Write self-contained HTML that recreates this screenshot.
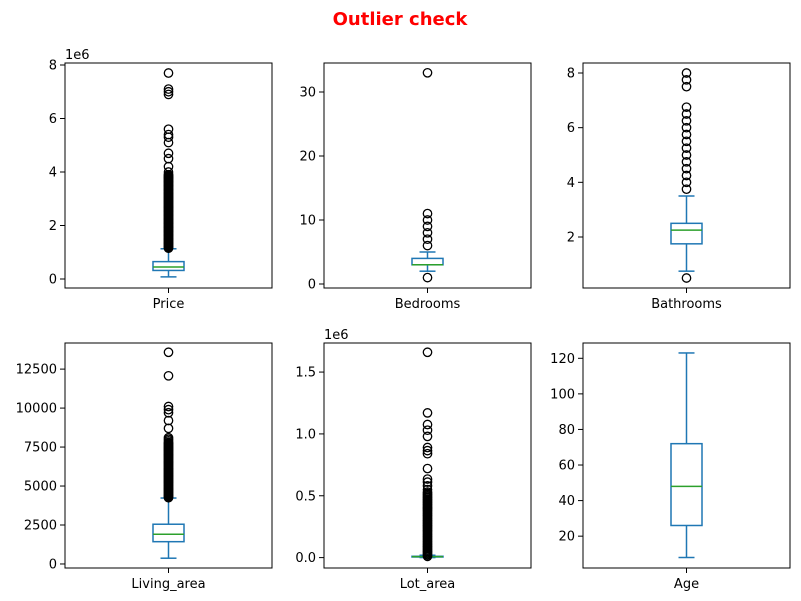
<!DOCTYPE html>
<html><head><meta charset="utf-8"><style>
body{margin:0;background:#fff}
svg{display:block;font-family:"DejaVu Sans","Liberation Sans",sans-serif}
</style></head><body>
<svg id="chart" width="801" height="601" viewBox="0 0 801 601">
<text x="400" y="25" text-anchor="middle" font-size="18" font-weight="bold" fill="#ff0000">Outlier check</text>
</svg>
<script>
// data per panel
const panelNames = ["Price","Bedrooms","Bathrooms","Living_area","Lot_area","Age"];
const yDomains = [[-0.336,8.075],[-0.625,34.53],[0.134,8.366],[-0.258,14.175],[-0.084,1.735],[2.1,128.6]];
const yTicks = [[0,2,4,6,8],[0,10,20,30],[2,4,6,8],[0,2.5,5,7.5,10,12.5],[0,0.5,1.0,1.5],[20,40,60,80,100,120]];
const yTickLabels = [["0","2","4","6","8"],["0","10","20","30"],["2","4","6","8"],["0","2500","5000","7500","10000","12500"],["0.0","0.5","1.0","1.5"],["20","40","60","80","100","120"]];
const offsetLabels = ["1e6","","","","1e6",""];
// box stats: [whiskerLow, q1, median, q3, whiskerHigh]
const boxStats = [
 [0.08,0.32,0.45,0.65,1.13],
 [2,3,3,4,5],
 [0.75,1.75,2.25,2.5,3.5],
 [0.37,1.43,1.91,2.55,4.23],
 [0.0005,0.005,0.0076,0.0107,0.019],
 [8,26,48,72,123]
];
const outliers = [
 [1.15,1.18,1.2,1.23,1.25,1.28,1.3,1.33,1.35,1.38,1.4,1.43,1.45,1.48,1.5,1.53,1.55,1.58,1.6,1.63,1.65,1.68,1.7,1.73,1.75,1.78,1.8,1.83,1.85,1.88,1.9,1.93,1.95,1.98,2.0,2.03,2.05,2.08,2.1,2.13,2.15,2.18,2.2,2.23,2.25,2.28,2.3,2.33,2.35,2.38,2.4,2.43,2.45,2.48,2.5,2.53,2.55,2.58,2.6,2.63,2.65,2.68,2.7,2.73,2.75,2.78,2.8,2.83,2.85,2.88,2.9,2.93,2.95,2.98,3.0,3.03,3.05,3.08,3.1,3.13,3.15,3.18,3.2,3.23,3.25,3.28,3.3,3.33,3.35,3.38,3.4,3.43,3.45,3.48,3.5,3.53,3.55,3.58,3.6,3.63,3.65,3.68,3.7,3.73,3.75,3.78,3.8,3.83,3.85,3.88,3.9,4.0,4.2,4.5,4.7,5.1,5.3,5.4,5.6,6.9,7.0,7.1,7.7],
 [1,6,7,8,9,10,11,33],
 [0.5,3.75,4,4.25,4.5,4.75,5,5.25,5.5,5.75,6,6.25,6.5,6.75,7.5,7.75,8],
 [4.25,4.3,4.35,4.4,4.45,4.5,4.55,4.6,4.65,4.7,4.75,4.8,4.85,4.9,4.95,5.0,5.05,5.1,5.15,5.2,5.25,5.3,5.35,5.4,5.45,5.5,5.55,5.6,5.65,5.7,5.75,5.8,5.85,5.9,5.95,6.0,6.05,6.1,6.15,6.2,6.25,6.3,6.35,6.4,6.45,6.5,6.55,6.6,6.65,6.7,6.75,6.8,6.85,6.9,6.95,7.0,7.05,7.1,7.15,7.2,7.25,7.3,7.35,7.4,7.45,7.5,7.55,7.6,7.65,7.7,7.75,7.8,7.9,8.0,8.1,8.7,9.2,9.7,9.9,10.1,12.07,13.58],
 [0.01,0.02,0.03,0.04,0.05,0.06,0.07,0.08,0.09,0.1,0.11,0.12,0.13,0.14,0.15,0.16,0.17,0.18,0.19,0.2,0.21,0.22,0.23,0.24,0.25,0.26,0.27,0.28,0.29,0.3,0.31,0.32,0.33,0.34,0.35,0.36,0.37,0.38,0.39,0.4,0.41,0.42,0.43,0.44,0.45,0.46,0.47,0.48,0.49,0.5,0.51,0.52,0.53,0.55,0.58,0.61,0.635,0.72,0.84,0.865,0.89,0.98,1.03,1.076,1.17,1.66],
 []
];
const NS="http://www.w3.org/2000/svg";
const svg=document.getElementById('chart');
const colsX=[65,324,583], rowsY=[63,343], W=207, H=225;
function mk(tag,attrs,parent){const e=document.createElementNS(NS,tag);for(const k in attrs)e.setAttribute(k,attrs[k]);(parent||svg).appendChild(e);return e;}
panelNames.forEach((name,i)=>{
  const x0=colsX[i%3], y0=rowsY[Math.floor(i/3)];
  const [dmin,dmax]=yDomains[i];
  const ys=v=>y0+H-(v-dmin)/(dmax-dmin)*H;
  const cx=x0+W/2;
  const g=mk('g',{});
  
  
  yTicks[i].forEach((t,j)=>{
    const y=ys(t);
    const tk=mk('line',{x1:x0-5,x2:x0,y1:y,y2:y,stroke:'#000','stroke-width':1},g);
    
    
    const tl=mk('text',{x:x0-8,y:y+4.5,'text-anchor':'end','font-size':13,fill:'#000'},g);
    tl.textContent=yTickLabels[i][j];
    
    
  });
  if(offsetLabels[i]){
    const ol=mk('text',{x:x0,y:y0-4,'font-size':13,fill:'#000'},g);
    ol.textContent=offsetLabels[i];
    
    
  }
  mk('line',{x1:cx,x2:cx,y1:y0+H,y2:y0+H+5,stroke:'#000','stroke-width':1},g);
  const xl=mk('text',{x:cx,y:y0+H+20,'text-anchor':'middle','font-size':13,fill:'#000'},g);
  xl.textContent=name;
  
  
  const [wl,q1,md,q3,wh]=boxStats[i];
  const blue='#1f77b4';
  mk('line',{x1:cx,x2:cx,y1:ys(q1),y2:ys(wl),stroke:blue,'stroke-width':1.5},g);
  mk('line',{x1:cx,x2:cx,y1:ys(q3),y2:ys(wh),stroke:blue,'stroke-width':1.5},g);
  mk('line',{x1:cx-8,x2:cx+8,y1:ys(wl),y2:ys(wl),stroke:blue,'stroke-width':1.5},g);
  mk('line',{x1:cx-8,x2:cx+8,y1:ys(wh),y2:ys(wh),stroke:blue,'stroke-width':1.5},g);
  const bx=mk('rect',{x:cx-15.5,y:ys(q3),width:31,height:Math.max(ys(q1)-ys(q3),0.5),fill:'none',stroke:blue,'stroke-width':1.5},g);
  
  
  const ml=mk('line',{x1:cx-15.5,x2:cx+15.5,y1:ys(md),y2:ys(md),stroke:'#2ca02c','stroke-width':1.5},g);
  
  
  outliers[i].forEach(v=>{
    const c=mk('circle',{cx:cx,cy:ys(v),r:4.2,fill:'none',stroke:'#000','stroke-width':1.3},g);
    
    
  });
  const fr=mk('rect',{x:x0,y:y0,width:W,height:H,fill:'none',stroke:'#000','stroke-width':1},g);
  
  
});
</script>
</body></html>
